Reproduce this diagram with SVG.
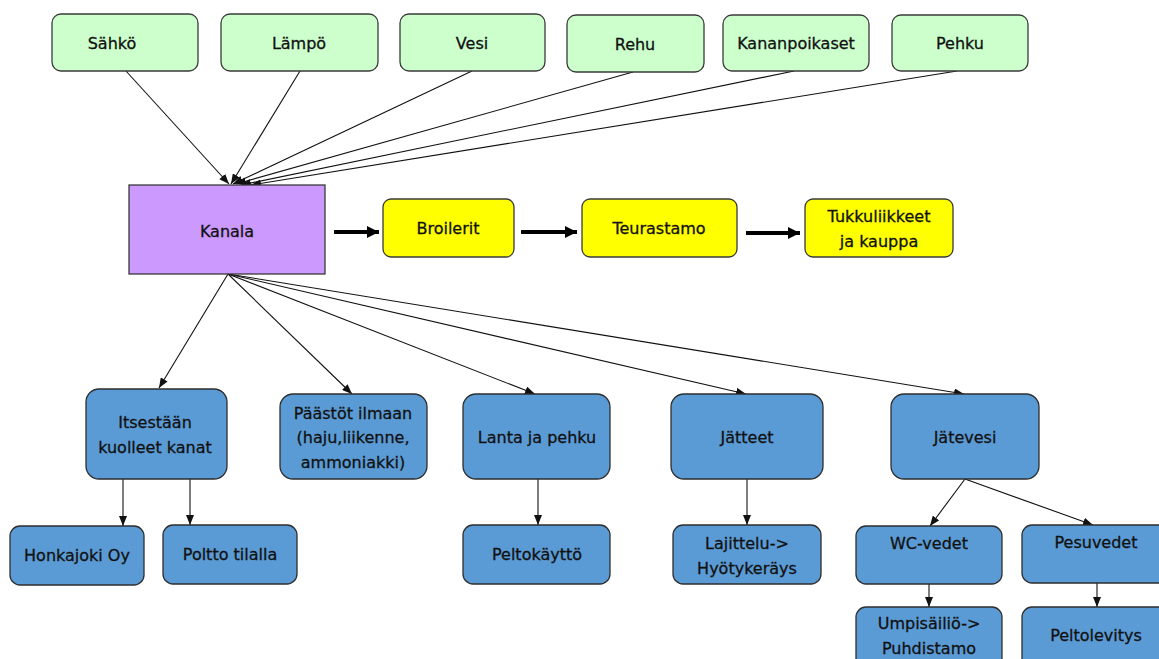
<svg xmlns="http://www.w3.org/2000/svg" width="1159" height="659" viewBox="0 0 1159 659">
<style>
text{font-family:"DejaVu Sans","Liberation Sans",sans-serif;font-size:16px;fill:#111;stroke:#111;stroke-width:0.3;text-anchor:middle}
.g{fill:#ccffcc;stroke:#3a3a3a;stroke-width:1.3}
.y{fill:#ffff00;stroke:#3a3a3a;stroke-width:1.3}
.b{fill:#5b9bd5;stroke:#2e2e2e;stroke-width:1.3}
.p{fill:#cc99ff;stroke:#3a3a3a;stroke-width:1.3}
.c{stroke:#111;stroke-width:1.1;fill:none;marker-end:url(#a)}
.t{stroke:#000;stroke-width:4;fill:none;marker-end:url(#ta)}
</style>
<defs>
<marker id="a" markerUnits="userSpaceOnUse" markerWidth="10" markerHeight="8" refX="10" refY="4" orient="auto"><path d="M0,0L10,4L0,8z" fill="#111"/></marker>
<marker id="ta" markerUnits="userSpaceOnUse" markerWidth="12" markerHeight="12" refX="12" refY="6" orient="auto"><path d="M0,0L12,6L0,12z" fill="#000"/></marker>
</defs>
<rect width="1159" height="659" fill="#fff"/>
<g id="connectors">
<line class="c" x1="126" y1="71" x2="229" y2="184"/>
<line class="c" x1="300" y1="71" x2="231" y2="184"/>
<line class="c" x1="472" y1="71" x2="233" y2="184"/>
<line class="c" x1="633" y1="72" x2="236" y2="184"/>
<line class="c" x1="794" y1="71" x2="241" y2="185"/>
<line class="c" x1="957" y1="71" x2="251" y2="185"/>
<line class="t" x1="334" y1="232" x2="379" y2="232"/>
<line class="t" x1="521" y1="232" x2="577" y2="232"/>
<line class="t" x1="746" y1="233" x2="800" y2="233"/>
<line class="c" x1="228" y1="274" x2="159" y2="388"/>
<line class="c" x1="228" y1="274" x2="352" y2="394"/>
<line class="c" x1="228" y1="274" x2="535" y2="394"/>
<line class="c" x1="228" y1="274" x2="746" y2="394"/>
<line class="c" x1="228" y1="274" x2="964" y2="394"/>
<line class="c" x1="123" y1="479" x2="123" y2="526"/>
<line class="c" x1="190" y1="479" x2="190" y2="525"/>
<line class="c" x1="538" y1="479" x2="538" y2="525"/>
<line class="c" x1="747" y1="479" x2="747" y2="525"/>
<line class="c" x1="965" y1="479" x2="930" y2="526"/>
<line class="c" x1="965" y1="479" x2="1093" y2="525"/>
<line class="c" x1="929" y1="584" x2="929" y2="607"/>
<line class="c" x1="1097" y1="583" x2="1097" y2="607"/>
</g>
<g id="n-sahko"><rect class="g" x="52" y="14" width="146" height="57" rx="9"/><text x="112" y="49">Sähkö</text></g>
<g id="n-lampo"><rect class="g" x="221" y="14" width="157" height="57" rx="9"/><text x="299" y="49">Lämpö</text></g>
<g id="n-vesi"><rect class="g" x="400" y="14" width="145" height="57" rx="9"/><text x="472" y="49">Vesi</text></g>
<g id="n-rehu"><rect class="g" x="567" y="15" width="137" height="57" rx="9"/><text x="635" y="50">Rehu</text></g>
<g id="n-kananpoikaset"><rect class="g" x="723" y="15" width="146" height="56" rx="9"/><text x="796" y="49">Kananpoikaset</text></g>
<g id="n-pehku"><rect class="g" x="892" y="15" width="136" height="56" rx="9"/><text x="960" y="49">Pehku</text></g>
<g id="n-kanala"><rect class="p" x="129" y="185" width="196" height="89"/><text x="227" y="237">Kanala</text></g>
<g id="n-broilerit"><rect class="y" x="383" y="199" width="131" height="58" rx="8"/><text x="448" y="234">Broilerit</text></g>
<g id="n-teurastamo"><rect class="y" x="582" y="199" width="155" height="58" rx="8"/><text x="659" y="234">Teurastamo</text></g>
<g id="n-tukku"><rect class="y" x="805" y="199" width="148" height="58" rx="8"/><text x="879" y="222">Tukkuliikkeet</text><text x="879" y="247">ja kauppa</text></g>
<g id="n-itsestaan"><rect class="b" x="86" y="389" width="141" height="90" rx="13"/><text x="155" y="428">Itsestään</text><text x="155" y="453">kuolleet kanat</text></g>
<g id="n-paastot"><rect class="b" x="280" y="394" width="147" height="85" rx="13"/><text x="353" y="419">Päästöt ilmaan</text><text x="353" y="443">(haju,liikenne,</text><text x="353" y="468">ammoniakki)</text></g>
<g id="n-lanta"><rect class="b" x="463" y="394" width="147" height="85" rx="13"/><text x="537" y="443">Lanta ja pehku</text></g>
<g id="n-jatteet"><rect class="b" x="671" y="394" width="152" height="85" rx="13"/><text x="747" y="443">Jätteet</text></g>
<g id="n-jatevesi"><rect class="b" x="891" y="394" width="148" height="85" rx="13"/><text x="965" y="443">Jätevesi</text></g>
<g id="n-honkajoki"><rect class="b" x="10" y="526" width="134" height="59" rx="10"/><text x="77" y="561">Honkajoki Oy</text></g>
<g id="n-poltto"><rect class="b" x="163" y="525" width="134" height="59" rx="10"/><text x="230" y="560">Poltto tilalla</text></g>
<g id="n-peltokaytto"><rect class="b" x="463" y="525" width="147" height="59" rx="10"/><text x="537" y="560">Peltokäyttö</text></g>
<g id="n-lajittelu"><rect class="b" x="673" y="525" width="148" height="59" rx="10"/><text x="747" y="549">Lajittelu-&gt;</text><text x="747" y="574">Hyötykeräys</text></g>
<g id="n-wc"><rect class="b" x="856" y="526" width="146" height="58" rx="10"/><text x="929" y="549">WC-vedet</text></g>
<g id="n-pesuvedet"><rect class="b" x="1022" y="525" width="148" height="58" rx="10"/><text x="1096" y="548">Pesuvedet</text></g>
<g id="n-umpisailio"><rect class="b" x="856" y="607" width="146" height="62" rx="10"/><text x="929" y="629">Umpisäiliö-&gt;</text><text x="929" y="654">Puhdistamo</text></g>
<g id="n-peltolevitys"><rect class="b" x="1022" y="607" width="148" height="62" rx="10"/><text x="1096" y="641">Peltolevitys</text></g>
</svg>
